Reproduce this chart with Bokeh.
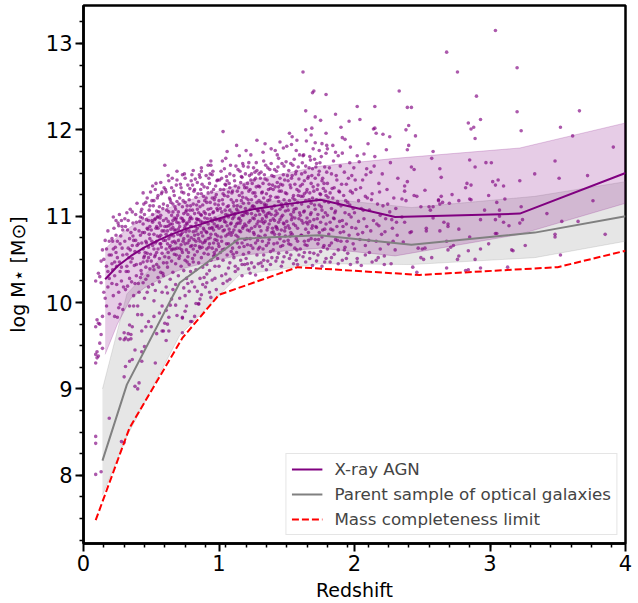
from bokeh.plotting import figure
from bokeh.models import Range1d, FixedTicker, Legend, LegendItem, ColumnDataSource
from bokeh.embed import file_html
from bokeh.resources import INLINE

# ---------------- data ----------------
# X-ray AGN median stellar mass and 16-84 percentile band
agn_z = [0.16, 0.25, 0.35, 0.45, 0.55, 0.65, 0.75, 0.85, 0.95, 1.1, 1.25, 1.5, 1.75, 2.3, 3.22, 4.0]
agn_med = [10.27, 10.42, 10.54, 10.64, 10.72, 10.79, 10.85, 10.90, 10.95, 11.02, 11.08, 11.14, 11.19, 10.99, 11.03, 11.50]
agn_hi = [10.62, 10.76, 10.88, 10.97, 11.05, 11.11, 11.17, 11.22, 11.27, 11.34, 11.42, 11.50, 11.58, 11.67, 11.79, 12.08]
agn_lo = [9.40, 9.75, 10.05, 10.17, 10.26, 10.34, 10.40, 10.44, 10.48, 10.53, 10.56, 10.60, 10.63, 10.54, 10.79, 11.15]

# parent sample of optical galaxies
par_z = [0.14, 0.32, 0.71, 1.15, 1.74, 2.42, 3.33, 4.0]
par_med = [8.17, 9.05, 10.23, 10.74, 10.78, 10.67, 10.81, 11.00]
par_hi = [9.00, 10.10, 10.75, 11.15, 11.21, 11.10, 11.23, 11.40]
par_lo = [7.77, 8.45, 9.62, 10.32, 10.45, 10.44, 10.52, 10.71]

# mass completeness limit
lim_z = [0.09, 0.34, 0.73, 1.0, 1.58, 2.48, 3.5, 4.0]
lim_m = [7.48, 8.55, 9.59, 10.09, 10.41, 10.32, 10.41, 10.60]

# individual X-ray AGN (redshift, log M*)
agn_pts_z0 = [(0.09,8.01),(0.09,8.37),(0.09,8.45),(0.09,9.30),(0.09,9.40),(0.11,9.38),(0.10,9.43),(0.10,9.36),(0.09,10.25),(0.09,9.72),
 (0.11,10.34),(0.12,10.30),(0.13,10.23),(0.10,9.80),(0.12,9.75),(0.14,9.47),(0.12,9.53),(0.13,9.63),(0.11,9.76),(0.14,9.84),(0.19,9.87),(0.17,9.96),(0.13,8.04),(0.19,8.66),(0.16,10.72),(0.19,10.71),(0.18,10.83),(0.15,10.50),(0.17,10.42),(0.14,10.61),(0.18,10.18),(0.16,10.05),(0.19,10.55),(0.15,10.12),(0.18,10.36),(0.17,10.62),(0.13,10.48),(0.19,10.28),
 (0.22,10.99),(0.28,10.95),(0.23,9.84),(0.25,9.83),(0.26,9.94),(0.29,9.92),(0.27,9.98),(0.27,9.58),(0.30,9.57),(0.30,9.65),(0.28,8.39),(0.30,8.38),(0.30,9.14),(0.21,10.45),(0.22,10.62),(0.23,10.31),(0.24,10.78),(0.25,10.52),(0.26,10.12),(0.27,10.68),(0.28,10.41),(0.29,10.84),(0.21,10.22),(0.24,10.58),(0.26,10.89),(0.28,10.25),(0.22,10.08),(0.25,10.71),(0.29,10.55),(0.23,10.47),(0.27,10.36),(0.24,10.95),(0.21,10.74),
 (0.32,11.04),(0.34,9.74),(0.36,9.72),(0.31,9.59),(0.33,9.57),(0.35,9.63),(0.31,9.26),(0.34,9.32),(0.38,9.03),(0.40,9.00),(0.33,9.64),(0.35,9.58),(0.38,9.45),(0.36,9.34),(0.34,9.96),(0.37,9.96),(0.31,10.15),(0.32,10.42),(0.33,10.63),(0.34,10.28),(0.35,10.81),(0.36,10.51),(0.37,10.72),(0.38,10.22),(0.39,10.93),(0.31,10.88),(0.32,10.56),(0.33,10.36),(0.35,10.47),(0.36,10.66),(0.37,10.08),(0.38,10.59),(0.39,10.44),(0.34,10.74),(0.36,11.05),(0.38,10.85),(0.39,10.31),(0.33,10.95),
 (0.41,9.07),(0.43,9.32),(0.43,9.43),(0.45,9.49),(0.43,9.67),(0.48,9.78),(0.40,9.96),(0.43,9.86),(0.40,9.86),(0.44,11.27),(0.41,10.12),(0.42,10.45),(0.42,10.78),(0.43,10.33),(0.44,10.62),(0.44,10.91),(0.45,10.54),(0.45,11.02),(0.46,10.27),(0.46,10.71),(0.47,10.48),(0.47,10.86),(0.48,10.18),(0.48,10.64),(0.49,11.12),(0.49,10.39),(0.41,10.58),(0.42,10.99),(0.43,10.69),(0.44,10.23),(0.45,10.81),(0.46,11.16),(0.47,10.57),(0.48,10.95),(0.49,10.74),(0.41,10.83),(0.42,10.29),(0.46,10.41),(0.47,11.21),(0.48,10.52),(0.49,10.88),(0.45,10.05),(0.43,11.08),(0.47,10.12),(0.44,10.47)]

agn_pts_z1 = [(0.51,11.35),(0.57,11.39),(0.50,9.72),(0.52,9.84),(0.53,9.30),(0.58,9.67),(0.59,9.67),(0.58,9.96),(0.51,10.21),(0.51,10.66),(0.51,10.93),(0.52,10.38),(0.52,10.79),(0.52,11.18),(0.53,10.55),(0.53,10.97),(0.53,10.14),(0.54,10.71),(0.54,11.06),(0.54,10.44),(0.55,10.86),(0.55,10.29),(0.55,11.24),(0.55,10.62),(0.56,10.51),(0.56,10.92),(0.56,11.11),(0.56,10.76),(0.57,10.35),(0.57,10.68),(0.57,11.01),(0.58,10.57),(0.58,10.83),(0.58,11.28),(0.59,10.46),(0.59,10.95),(0.59,10.72),(0.59,11.14),(0.50,10.48),(0.50,10.84),(0.53,10.69),(0.54,10.88),(0.56,10.24),(0.57,10.89),(0.58,10.12),(0.59,10.31),(0.52,10.62),(0.55,10.99),(0.51,11.02),(0.57,10.78),(0.54,10.58),(0.53,11.31),
 (0.60,11.59),(0.69,11.52),(0.60,9.76),(0.62,9.75),(0.61,9.56),(0.64,9.97),(0.63,9.67),(0.69,9.85),(0.61,10.18),(0.61,10.62),(0.61,10.97),(0.61,11.28),(0.62,10.41),(0.62,10.83),(0.62,11.12),(0.63,10.52),(0.63,10.74),(0.63,11.05),(0.63,11.41),(0.64,10.27),(0.64,10.66),(0.64,10.91),(0.64,11.19),(0.65,10.48),(0.65,10.79),(0.65,11.01),(0.65,11.33),(0.66,10.35),(0.66,10.62),(0.66,10.87),(0.66,11.14),(0.67,10.56),(0.67,10.71),(0.67,10.98),(0.67,11.24),(0.68,10.21),(0.68,10.45),(0.68,10.84),(0.68,11.08),(0.69,10.63),(0.69,10.93),(0.69,11.17),(0.69,11.42),(0.60,10.88),(0.62,10.68),(0.64,10.77),(0.66,10.95),(0.68,10.69),(0.60,10.53),(0.63,10.89),(0.65,10.61),(0.67,10.84),(0.61,10.79),(0.66,11.05),(0.68,10.96),(0.62,10.11),(0.65,10.04),
 (0.73,11.48),(0.74,10.17),(0.78,10.13),(0.75,9.90),(0.73,9.82),(0.80,9.78),(0.73,9.65),(0.73,9.83),(0.76,9.96),(0.79,9.78),(0.70,10.31),(0.70,10.72),(0.70,11.05),(0.71,10.54),(0.71,10.88),(0.71,11.21),(0.72,10.42),(0.72,10.67),(0.72,10.98),(0.72,11.33),(0.73,10.58),(0.73,10.81),(0.73,11.11),(0.74,10.37),(0.74,10.74),(0.74,10.95),(0.74,11.27),(0.75,10.49),(0.75,10.68),(0.75,10.89),(0.75,11.16),(0.75,11.44),(0.76,10.28),(0.76,10.61),(0.76,10.85),(0.76,11.07),(0.77,10.53),(0.77,10.77),(0.77,11.02),(0.77,11.36),(0.78,10.44),(0.78,10.72),(0.78,10.94),(0.78,11.19),(0.79,10.65),(0.79,10.88),(0.79,11.12),(0.79,10.36),(0.71,10.63),(0.73,10.97),(0.76,10.92),(0.78,10.83),(0.70,10.85),(0.72,10.79),(0.74,11.03),(0.77,10.69),(0.79,10.99),
 (0.81,11.53),(0.80,11.48),(0.87,11.56),(0.87,11.52),(0.84,10.13),(0.87,10.09),(0.83,9.99),(0.85,9.98),(0.82,9.84),(0.85,9.99),(0.80,10.24),(0.80,10.66),(0.80,10.97),(0.81,10.47),(0.81,10.82),(0.81,11.14),(0.82,10.55),(0.82,10.78),(0.82,11.03),(0.82,11.31),(0.83,10.38),(0.83,10.71),(0.83,10.92),(0.83,11.22),(0.84,10.59),(0.84,10.86),(0.84,11.08),(0.84,11.39),(0.85,10.46),(0.85,10.74),(0.85,10.96),(0.85,11.17),(0.86,10.28),(0.86,10.63),(0.86,10.89),(0.86,11.11),(0.86,11.45),(0.87,10.52),(0.87,10.81),(0.87,11.01),(0.87,11.26),(0.88,10.41),(0.88,10.69),(0.88,10.93),(0.88,11.13),(0.89,10.57),(0.89,10.84),(0.89,11.05),(0.89,11.34),(0.80,10.88),(0.83,10.83),(0.85,11.04),(0.88,10.77),(0.81,10.62),(0.84,10.96),(0.86,10.71),(0.89,10.29),
 (0.94,11.64),(0.92,11.59),(0.94,11.59),(0.90,10.18),(0.91,10.44),(0.90,10.72),(0.90,11.03),(0.91,10.81),(0.91,11.16),(0.92,10.56),(0.92,10.91),(0.92,11.27),(0.93,10.37),(0.93,10.68),(0.93,11.02),(0.93,11.38),(0.94,10.49),(0.94,10.79),(0.94,11.09),(0.95,10.26),(0.95,10.63),(0.95,10.94),(0.95,11.21),(0.95,11.48),(0.96,10.54),(0.96,10.84),(0.96,11.05),(0.96,11.31),(0.97,10.42),(0.97,10.73),(0.97,10.98),(0.97,11.14),(0.98,10.15),(0.98,10.61),(0.98,10.88),(0.98,11.25),(0.99,10.51),(0.99,10.77),(0.99,11.07),(0.99,11.42),(0.90,10.93),(0.91,10.62),(0.92,11.08),(0.93,10.86),(0.94,10.97),(0.96,10.69),(0.97,11.22),(0.98,10.96),(0.99,10.89),(0.92,10.74),(0.95,10.87),(0.97,10.55),(0.91,10.33),(0.94,10.06)]

agn_pts_z2 = [(1.03,11.98),(1.06,11.75),(1.05,11.67),(1.00,10.42),(1.07,10.40),(1.00,10.86),(1.00,11.18),(1.01,10.58),(1.01,10.96),(1.01,11.31),(1.02,10.71),(1.02,11.05),(1.02,11.44),(1.03,10.49),(1.03,10.83),(1.03,11.14),(1.04,10.62),(1.04,10.94),(1.04,11.24),(1.04,11.55),(1.05,10.33),(1.05,10.77),(1.05,11.02),(1.05,11.36),(1.06,10.55),(1.06,10.89),(1.06,11.11),(1.07,10.68),(1.07,10.99),(1.07,11.28),(1.08,10.46),(1.08,10.81),(1.08,11.07),(1.08,11.49),(1.09,10.59),(1.09,10.92),(1.09,11.19),(1.00,10.65),(1.02,10.88),(1.03,11.26),(1.05,10.93),(1.06,10.25),(1.07,11.12),(1.09,10.78),(1.01,11.09),(1.04,10.84),(1.08,11.33),(1.03,10.22),(1.06,11.41),
 (1.13,11.82),(1.20,11.76),(1.15,11.70),(1.12,10.42),(1.10,10.63),(1.10,10.97),(1.10,11.29),(1.11,10.52),(1.11,10.84),(1.11,11.12),(1.11,11.47),(1.12,10.71),(1.12,11.03),(1.12,11.35),(1.13,10.58),(1.13,10.91),(1.13,11.18),(1.14,10.39),(1.14,10.76),(1.14,11.06),(1.14,11.54),(1.15,10.64),(1.15,10.98),(1.15,11.24),(1.16,10.49),(1.16,10.82),(1.16,11.11),(1.16,11.39),(1.17,10.31),(1.17,10.69),(1.17,11.01),(1.17,11.27),(1.18,10.56),(1.18,10.88),(1.18,11.15),(1.18,11.58),(1.19,10.73),(1.19,11.04),(1.19,11.33),(1.10,10.81),(1.12,10.88),(1.13,11.08),(1.15,10.83),(1.16,10.95),(1.18,11.01),(1.19,10.44),(1.11,10.99),(1.14,10.92),(1.17,11.45),(1.19,10.91),
 (1.28,11.88),(1.23,10.34),(1.27,10.32),(1.20,10.51),(1.20,10.89),(1.20,11.21),(1.21,10.67),(1.21,11.03),(1.21,11.38),(1.22,10.58),(1.22,10.93),(1.22,11.15),(1.22,11.62),(1.23,10.74),(1.23,11.08),(1.23,11.31),(1.24,10.46),(1.24,10.86),(1.24,11.19),(1.24,11.49),(1.25,10.63),(1.25,10.98),(1.25,11.27),(1.26,10.41),(1.26,10.79),(1.26,11.11),(1.26,11.42),(1.27,10.69),(1.27,11.01),(1.27,11.23),(1.28,10.55),(1.28,10.91),(1.28,11.16),(1.28,11.53),(1.29,10.77),(1.29,11.06),(1.29,11.35),(1.20,11.04),(1.21,10.84),(1.23,10.95),(1.25,11.12),(1.26,10.97),(1.27,11.44),(1.29,10.62),(1.24,11.03),(1.22,11.29),(1.29,10.94),(1.21,10.45),
 (1.34,11.84),(1.32,10.42),(1.35,10.38),(1.30,10.64),(1.30,11.02),(1.30,11.34),(1.31,10.83),(1.31,11.16),(1.31,11.51),(1.32,10.71),(1.32,11.07),(1.32,11.28),(1.33,10.55),(1.33,10.92),(1.33,11.21),(1.33,11.64),(1.34,10.78),(1.34,11.12),(1.34,11.43),(1.35,10.66),(1.35,10.99),(1.35,11.26),(1.36,10.48),(1.36,10.87),(1.36,11.18),(1.36,11.56),(1.37,10.73),(1.37,11.04),(1.37,11.37),(1.38,10.59),(1.38,10.95),(1.38,11.23),(1.39,10.81),(1.39,11.09),(1.39,11.47),(1.30,10.88),(1.32,10.97),(1.34,10.94),(1.35,11.13),(1.37,10.91),(1.38,11.32),(1.39,10.52),(1.31,10.46),(1.36,11.03),(1.33,11.05),
 (1.45,11.86),(1.40,10.61),(1.40,10.97),(1.40,11.31),(1.41,10.79),(1.41,11.12),(1.41,11.54),(1.42,10.48),(1.42,10.88),(1.42,11.22),(1.43,10.69),(1.43,11.03),(1.43,11.39),(1.44,10.57),(1.44,10.93),(1.44,11.17),(1.44,11.67),(1.45,10.74),(1.45,11.08),(1.45,11.44),(1.46,10.42),(1.46,10.84),(1.46,11.14),(1.46,11.29),(1.47,10.66),(1.47,11.01),(1.47,11.36),(1.48,10.53),(1.48,10.91),(1.48,11.19),(1.48,11.58),(1.49,10.77),(1.49,11.06),(1.49,11.27),(1.40,10.82),(1.42,11.06),(1.43,10.85),(1.45,10.96),(1.47,11.11),(1.49,10.87),(1.41,10.95),(1.44,11.34),(1.46,10.99),(1.48,10.71),(1.43,11.71)]

agn_pts_z3 = [(1.52,11.96),(1.54,11.92),(1.50,11.81),(1.57,11.76),(1.58,10.44),(1.50,10.58),(1.50,10.94),(1.50,11.26),(1.51,10.72),(1.51,11.07),(1.51,11.41),(1.52,10.51),(1.52,10.86),(1.52,11.18),(1.53,10.67),(1.53,11.02),(1.53,11.33),(1.53,11.61),(1.54,10.79),(1.54,11.13),(1.54,11.47),(1.55,10.45),(1.55,10.91),(1.55,11.24),(1.56,10.63),(1.56,10.98),(1.56,11.37),(1.57,10.74),(1.57,11.09),(1.57,11.52),(1.58,10.86),(1.58,11.16),(1.59,10.55),(1.59,10.97),(1.59,11.29),(1.51,10.89),(1.53,10.81),(1.55,11.05),(1.56,11.19),(1.58,10.71),(1.59,11.43),(1.54,10.99),
 (1.62,12.67),(1.64,12.22),(1.64,12.00),(1.68,11.94),(1.62,11.70),(1.67,11.69),(1.60,10.62),(1.60,11.01),(1.60,11.35),(1.61,10.78),(1.61,11.14),(1.61,11.49),(1.62,10.53),(1.62,10.92),(1.62,11.23),(1.63,10.71),(1.63,11.06),(1.63,11.41),(1.64,10.47),(1.64,10.85),(1.64,11.18),(1.64,11.58),(1.65,10.66),(1.65,10.98),(1.65,11.31),(1.66,10.81),(1.66,11.11),(1.66,11.46),(1.67,10.58),(1.67,10.94),(1.67,11.27),(1.68,10.74),(1.68,11.04),(1.68,11.38),(1.69,10.43),(1.69,10.89),(1.69,11.21),(1.69,11.55),(1.61,10.95),(1.63,11.26),(1.66,10.72),(1.68,11.15),
 (1.70,12.45),(1.69,12.43),(1.79,12.41),(1.71,12.15),(1.75,12.11),(1.79,11.96),(1.71,11.85),(1.76,11.84),(1.74,11.76),(1.79,11.73),(1.70,10.57),(1.70,10.96),(1.70,11.29),(1.71,10.73),(1.71,11.08),(1.71,11.44),(1.72,10.48),(1.72,10.87),(1.72,11.19),(1.72,11.61),(1.73,10.68),(1.73,11.02),(1.73,11.36),(1.74,10.81),(1.74,11.13),(1.74,11.52),(1.75,10.59),(1.75,10.93),(1.75,11.25),(1.76,10.42),(1.76,10.76),(1.76,11.07),(1.76,11.41),(1.77,10.64),(1.77,10.99),(1.77,11.32),(1.78,10.85),(1.78,11.17),(1.78,11.57),(1.79,10.51),(1.79,10.91),(1.79,11.24),
 (1.86,12.18),(1.84,11.82),(1.80,11.78),(1.86,11.74),(1.88,11.70),(1.80,10.62),(1.80,11.01),(1.80,11.38),(1.81,10.79),(1.81,11.16),(1.82,10.47),(1.82,10.93),(1.82,11.27),(1.83,10.69),(1.83,11.09),(1.83,11.49),(1.84,10.84),(1.84,11.21),(1.85,10.56),(1.85,10.97),(1.85,11.33),(1.86,10.73),(1.86,11.06),(1.87,10.88),(1.87,11.42),(1.88,10.61),(1.88,11.14),(1.89,10.94),(1.89,11.28),
 (1.90,12.03),(1.96,12.10),(1.91,11.91),(1.93,11.89),(1.91,11.73),(1.97,11.80),(1.90,10.71),(1.90,11.12),(1.91,10.49),(1.91,10.95),(1.92,10.82),(1.92,11.24),(1.93,10.64),(1.93,11.04),(1.94,10.91),(1.94,11.37),(1.95,10.57),(1.95,11.16),(1.96,10.78),(1.96,11.02),(1.97,10.44),(1.97,11.29),(1.98,10.87),(1.98,11.47),(1.99,10.68),(1.99,11.09)]

agn_pts_z4 = [(2.02,12.27),(2.04,12.12),(2.02,11.70),(2.07,11.72),(2.10,11.84),(2.00,10.62),(2.00,11.04),(2.01,10.86),(2.01,11.31),(2.02,10.51),(2.03,10.94),(2.03,11.18),(2.04,10.73),(2.05,11.09),(2.05,10.43),(2.06,10.81),(2.06,11.42),(2.07,10.97),(2.08,10.66),(2.08,11.23),(2.09,10.88),(2.09,11.55),
 (2.15,12.27),(2.15,12.02),(2.14,12.01),(2.16,11.96),(2.15,11.69),(2.11,10.58),(2.11,11.07),(2.12,10.83),(2.13,11.26),(2.13,10.47),(2.14,10.95),(2.16,10.71),(2.17,11.14),(2.18,10.89),(2.18,11.38),(2.19,10.62),(2.19,11.01),(2.12,11.51),
 (2.21,11.95),(2.26,11.92),(2.20,10.79),(2.21,11.12),(2.22,10.54),(2.23,10.97),(2.24,11.31),(2.25,10.68),(2.26,11.05),(2.27,10.45),(2.28,10.86),(2.29,11.21),(2.30,10.61),(2.31,10.93),(2.32,11.44),(2.33,12.45)]

agn_pts_z5 = [(3.04,13.15),(2.68,12.90),(2.76,12.67),(3.20,12.72),(2.90,12.39),(2.39,12.26),(2.42,12.26),(3.20,12.21),(3.66,12.22),(2.93,12.12),(2.84,12.08),(2.88,12.03),(2.86,12.01),(2.40,12.05),(2.38,12.00),(3.23,11.99),(2.45,11.93),(2.89,11.90),(3.52,12.03),(3.61,11.93),(2.40,11.82),(2.39,11.77),(3.91,11.80),(2.58,11.75),(2.57,11.67),(2.85,11.65),(3.48,11.64),(2.97,11.62),(3.01,11.62),(2.42,11.57),(2.44,11.54),(2.89,11.57),(2.63,11.55),(3.33,11.49),(2.64,11.45),(2.39,11.40),(3.06,11.42),(3.02,11.40),(3.04,11.36),(2.83,11.38),(2.86,11.36),(3.22,11.41),(3.51,11.44),(3.72,11.47),(2.37,11.35),(2.37,11.29),(3.10,11.35),(2.52,11.30),(2.72,11.25),(2.64,11.23),(2.62,11.19),(2.82,11.33),(2.99,11.24),(2.44,11.24),(2.46,11.23),(2.35,11.20),(2.38,11.18),(2.85,11.20),(2.86,11.19),(2.77,11.18),(2.70,11.15),(2.65,11.16),(3.05,11.16),(3.11,11.20),(3.76,11.18),(2.49,11.11),(2.55,11.11),(2.58,11.11),(2.62,11.18),(2.63,11.14),(2.96,11.07),(3.07,11.07),(3.23,11.11),(3.42,11.03),(2.56,11.07),(2.35,10.99),(2.37,10.93),(2.58,10.98),(2.66,10.93),(2.69,10.91),(2.69,10.88),(2.93,10.96),(3.04,10.96),(3.07,11.00),(3.10,10.93),(3.24,10.96),(3.22,10.92),(3.53,10.94),(3.65,10.94),(2.53,10.86),(2.53,10.83),(2.63,10.83),(2.77,10.85),(2.41,10.81),(2.42,10.82),(3.14,10.89),(3.04,10.80),(3.05,10.80),(3.48,10.79),(3.48,10.76),(3.85,10.79),(2.36,10.70),(2.50,10.62),(2.52,10.63),(2.47,10.63),(2.68,10.71),(2.69,10.61),(2.71,10.64),(2.73,10.66),(2.85,10.76),(2.99,10.68),(3.16,10.61),(3.17,10.60),(3.26,10.66),(2.84,10.60),(2.93,10.62),(2.57,10.52),(2.49,10.52),(2.51,10.50),(2.43,10.41),(2.46,10.35),(2.77,10.54),(2.76,10.50),(2.89,10.50),(3.52,10.55),(2.68,10.40),(2.84,10.38),(2.82,10.37),(2.93,10.40),(3.13,10.41)]

agn_pts_fill_a = [(0.205,10.55),(0.215,10.38),(0.225,10.86),(0.235,10.64),(0.245,10.21),(0.255,10.92),(0.265,10.47),(0.275,10.77),(0.285,10.63),(0.295,10.18),(0.215,10.71),(0.265,11.02),(0.245,10.42),(0.285,10.88),
 (0.305,10.71),(0.315,10.36),(0.325,10.84),(0.335,10.52),(0.345,11.08),(0.355,10.24),(0.365,10.77),(0.375,10.43),(0.385,11.02),(0.395,10.66),(0.305,10.97),(0.325,10.19),(0.345,10.61),(0.365,10.92),(0.385,10.72),(0.395,11.15),
 (0.405,10.68),(0.415,10.94),(0.425,10.37),(0.435,10.81),(0.445,11.14),(0.455,10.58),(0.465,10.96),(0.475,10.31),(0.485,10.79),(0.495,11.28),(0.405,10.22),(0.425,11.05),(0.445,10.52),(0.465,10.69),(0.485,11.07),(0.495,10.56),(0.435,10.98),(0.475,10.85),
 (0.505,10.71),(0.515,11.12),(0.525,10.53),(0.535,10.86),(0.545,11.21),(0.555,10.41),(0.565,10.98),(0.575,10.64),(0.585,11.09),(0.595,10.83),(0.505,11.18),(0.515,10.42),(0.535,11.38),(0.545,10.77),(0.565,10.68),(0.575,11.26),(0.585,10.34),(0.595,11.33),(0.525,10.96),(0.555,11.05),(0.505,10.95),(0.545,10.99),
 (0.605,10.72),(0.615,11.07),(0.625,10.58),(0.635,11.21),(0.645,10.85),(0.655,11.44),(0.665,10.77),(0.675,11.11),(0.685,10.55),(0.695,11.01),(0.605,11.31),(0.615,10.46),(0.625,10.94),(0.635,10.64),(0.645,11.16),(0.655,10.91),(0.665,11.29),(0.675,10.62),(0.685,11.36),(0.695,10.79),(0.615,10.88),(0.655,10.70),(0.685,10.98),(0.625,11.47),
 (0.705,10.92),(0.715,11.37),(0.725,10.61),(0.735,11.18),(0.745,10.86),(0.755,11.05),(0.765,10.47),(0.775,11.25),(0.785,10.97),(0.795,11.41),(0.705,11.14),(0.715,10.78),(0.725,11.28),(0.735,10.71),(0.745,11.49),(0.755,10.82),(0.765,11.12),(0.775,10.58),(0.785,11.07),(0.795,10.75),(0.735,10.94),(0.765,10.91),(0.705,10.51),(0.785,11.32),
 (0.805,11.07),(0.815,10.73),(0.825,11.43),(0.835,10.97),(0.845,11.26),(0.855,10.65),(0.865,11.02),(0.875,11.37),(0.885,10.86),(0.895,11.18),(0.805,10.51),(0.815,11.29),(0.825,10.88),(0.835,11.13),(0.845,10.79),(0.855,11.48),(0.865,10.94),(0.875,10.64),(0.885,11.23),(0.895,10.98),(0.825,10.66),(0.865,11.31),(0.805,11.36),(0.895,10.70),
 (0.905,11.21),(0.915,10.97),(0.925,11.44),(0.935,10.75),(0.945,11.28),(0.955,11.04),(0.965,10.91),(0.975,11.35),(0.985,11.09),(0.995,10.68),(0.905,10.82),(0.915,11.33),(0.925,10.64),(0.935,11.16),(0.945,10.86),(0.955,11.52),(0.965,11.19),(0.975,10.79),(0.985,11.41),(0.995,11.13),(0.935,11.49),(0.965,10.58),(0.905,11.47),(0.985,10.72)]

agn_pts_fill_b = [(1.005,11.42),(1.015,10.76),(1.025,11.19),(1.035,10.97),(1.045,11.37),(1.055,10.68),(1.065,11.23),(1.075,10.85),(1.085,11.59),(1.095,11.04),(1.005,10.95),(1.015,11.52),(1.025,10.61),(1.035,11.31),(1.045,11.07),(1.055,11.46),(1.065,10.79),(1.075,11.38),(1.085,10.91),(1.095,11.27),(1.025,11.64),(1.065,11.01),
 (1.105,11.16),(1.115,11.41),(1.125,10.78),(1.135,11.29),(1.145,10.97),(1.155,11.52),(1.165,11.18),(1.175,10.86),(1.185,11.36),(1.195,11.09),(1.105,10.56),(1.115,11.02),(1.125,11.58),(1.135,10.69),(1.145,11.33),(1.155,10.92),(1.165,11.46),(1.175,11.22),(1.185,10.65),(1.195,11.49),(1.135,11.12),(1.175,11.61),
 (1.205,11.33),(1.215,11.57),(1.225,10.83),(1.235,11.42),(1.245,11.11),(1.255,11.56),(1.265,10.88),(1.275,11.34),(1.285,11.07),(1.295,11.49),(1.205,10.74),(1.215,11.19),(1.225,11.47),(1.235,10.66),(1.245,11.38),(1.255,10.81),(1.265,11.27),(1.275,11.62),(1.285,10.72),(1.295,11.18),(1.235,11.71),(1.265,11.51),
 (1.305,11.44),(1.315,10.94),(1.325,11.38),(1.335,11.14),(1.345,11.59),(1.355,10.84),(1.365,11.31),(1.375,11.54),(1.385,11.02),(1.395,11.36),(1.305,10.76),(1.315,11.27),(1.325,10.62),(1.335,11.48),(1.345,11.01),(1.355,11.42),(1.365,10.69),(1.375,11.19),(1.385,11.61),(1.395,10.86),(1.325,11.74),(1.385,11.78),
 (1.405,11.46),(1.415,11.01),(1.425,11.52),(1.435,11.22),(1.445,10.79),(1.455,11.37),(1.465,11.61),(1.475,10.92),(1.485,11.42),(1.495,11.15),(1.405,10.68),(1.415,11.34),(1.425,10.87),(1.435,11.57),(1.445,11.29),(1.455,10.65),(1.465,11.11),(1.475,11.48),(1.485,10.83),(1.495,11.63),(1.415,11.76),(1.475,11.79),
 (1.505,11.12),(1.515,11.53),(1.525,10.77),(1.535,11.44),(1.545,11.21),(1.555,11.66),(1.565,10.89),(1.575,11.31),(1.585,11.57),(1.595,11.04),(1.505,11.47),(1.515,10.68),(1.525,11.36),(1.535,10.96),(1.545,11.59),(1.555,11.08),(1.565,11.49),(1.575,10.61),(1.585,11.24),(1.595,11.71),(1.535,11.83),(1.575,11.88),
 (1.605,11.23),(1.615,11.62),(1.625,11.05),(1.635,11.51),(1.645,10.93),(1.655,11.44),(1.665,11.19),(1.675,11.65),(1.685,10.86),(1.695,11.34),(1.605,10.78),(1.615,11.37),(1.625,11.71),(1.635,10.67),(1.645,11.28),(1.655,10.91),(1.665,11.56),(1.675,11.02),(1.685,11.47),(1.695,11.78),(1.645,11.87),(1.685,12.02),
 (1.705,11.13),(1.715,11.57),(1.725,10.97),(1.735,11.48),(1.745,11.26),(1.755,11.69),(1.765,10.84),(1.775,11.38),(1.785,11.04),(1.795,11.51),(1.705,11.66),(1.715,10.88),(1.725,11.31),(1.735,10.73),(1.745,11.62),(1.755,11.11),(1.765,11.44),(1.775,10.66),(1.785,11.29),(1.795,11.82),
 (1.805,11.22),(1.815,11.56),(1.825,10.85),(1.835,11.32),(1.845,11.64),(1.855,11.04),(1.865,11.47),(1.875,10.72),(1.885,11.29),(1.895,11.58),(1.815,10.66),(1.845,10.98),(1.875,11.17),(1.895,10.81),
 (1.905,11.37),(1.915,10.88),(1.925,11.51),(1.935,11.18),(1.945,10.71),(1.955,11.44),(1.965,11.62),(1.975,10.99),(1.985,11.27),(1.995,11.56),(1.925,10.61),(1.965,11.13),
 (2.005,11.42),(2.025,10.79),(2.045,11.33),(2.065,11.07),(2.085,11.48),(2.105,10.72),(2.125,11.19),(2.145,11.58),(2.165,10.91),(2.185,11.28),(2.205,11.49),(2.225,10.82),(2.245,11.14),(2.265,11.62),(2.285,10.71),(2.305,11.09),(2.035,11.63),(2.095,11.21),(2.175,10.52),(2.235,11.77),(2.275,10.96),(2.315,10.78)]

agn_pts_fill_c = [(0.52,10.02),(0.56,9.88),(0.61,9.91),(0.66,10.15),(0.71,10.05),(0.77,10.22),(0.82,10.18),(0.88,10.21),(0.93,10.12),(0.97,10.28),(1.02,10.31),(1.08,10.27),(1.12,10.36),(1.17,10.44),(1.22,10.39),(1.29,10.45),(1.33,10.49),(1.38,10.44),(1.43,10.52),(1.47,10.47),(1.53,10.55),(1.57,10.49),(1.63,10.58),(1.67,10.51),(1.73,10.55),(1.78,10.47),(1.83,10.52),(1.88,10.45),(1.94,10.51),(2.02,10.47),(2.08,10.55),(2.16,10.49),(2.22,10.44),(0.46,9.72),(0.54,9.64),(0.63,9.83),(0.68,9.97),(0.75,10.08),(0.86,10.04),(0.91,10.23)]

x_major = [0, 1, 2, 3, 4]
y_major = [8, 9, 10, 11, 12, 13]

# ---------------- figure ----------------
pts = (agn_pts_z0 + agn_pts_z1 + agn_pts_z2 + agn_pts_z3 + agn_pts_z4 + agn_pts_z5
       + agn_pts_fill_a + agn_pts_fill_b + agn_pts_fill_c)
src = ColumnDataSource(dict(z=[a for a, b in pts], m=[b for a, b in pts]))

p = figure(width=638, height=603, x_range=Range1d(0, 4), y_range=Range1d(7.21, 13.44),
           output_backend="svg", toolbar_location=None,
           min_border_left=83, min_border_right=13, min_border_top=5, min_border_bottom=60)
p.xgrid.visible = False
p.ygrid.visible = False
p.background_fill_color = "white"
p.outline_line_color = "black"
p.outline_line_width = 2.5
p.outline_line_alpha = 1.0

# bands
p.varea(x=par_z, y1=par_lo, y2=par_hi, fill_color="gray", fill_alpha=0.2)
p.line(par_z, par_lo, line_color="gray", line_alpha=0.2, line_width=1)
p.line(par_z, par_hi, line_color="gray", line_alpha=0.2, line_width=1)
p.varea(x=agn_z, y1=agn_lo, y2=agn_hi, fill_color="purple", fill_alpha=0.2)
p.line(agn_z, agn_lo, line_color="purple", line_alpha=0.2, line_width=1)
p.line(agn_z, agn_hi, line_color="purple", line_alpha=0.2, line_width=1)

# points
p.scatter("z", "m", source=src, size=3.6, fill_color="purple", fill_alpha=0.65, line_color=None)

# lines
l_agn = p.line(agn_z, agn_med, line_color="purple", line_width=2)
l_par = p.line(par_z, par_med, line_color="gray", line_width=2)
l_lim = p.line(lim_z, lim_m, line_color="red", line_width=2, line_dash="7 3")

# axes
p.xaxis.ticker = FixedTicker(ticks=x_major, minor_ticks=[round(0.15 * i, 2) for i in range(1, 27)])
p.yaxis.ticker = FixedTicker(ticks=y_major, minor_ticks=[7.25 + 0.25 * i for i in range(0, 25)])
for ax in (p.xaxis[0], p.yaxis[0]):
    ax.axis_line_width = 2.5
    ax.axis_line_color = "black"
    ax.major_tick_line_width = 2
    ax.major_tick_out = 8
    ax.major_tick_in = 0
    ax.minor_tick_line_width = 1.5
    ax.minor_tick_out = 4
    ax.minor_tick_in = 0
    ax.major_label_text_font = "DejaVu Sans"
    ax.major_label_text_font_size = "21px"
    ax.major_label_text_color = "black"
    ax.axis_label_text_font = "DejaVu Sans"
    ax.axis_label_text_font_size = "19px"
    ax.axis_label_text_font_style = "normal"
    ax.axis_label_text_color = "black"
    ax.major_label_standoff = 3
p.xaxis.axis_label = "Redshift"
p.xaxis.axis_label_standoff = 5
p.yaxis.axis_label = "log M⋆ [M⊙]"
p.yaxis.axis_label_standoff = 14

legend = Legend(items=[LegendItem(label="X-ray AGN", renderers=[l_agn]),
                       LegendItem(label="Parent sample of optical galaxies", renderers=[l_par]),
                       LegendItem(label="Mass completeness limit", renderers=[l_lim])],
                location="bottom_right")
legend.margin = 8
legend.padding = 5
legend.spacing = 5
legend.label_text_font = "DejaVu Sans"
legend.label_text_font_size = "16.7px"
legend.label_height = 20
legend.glyph_width = 31
legend.glyph_height = 20
legend.label_standoff = 12
legend.border_line_color = "#cccccc"
legend.border_line_width = 1
legend.background_fill_alpha = 0.85
p.add_layout(legend)

open("out.html", "w").write(file_html(p, INLINE))
